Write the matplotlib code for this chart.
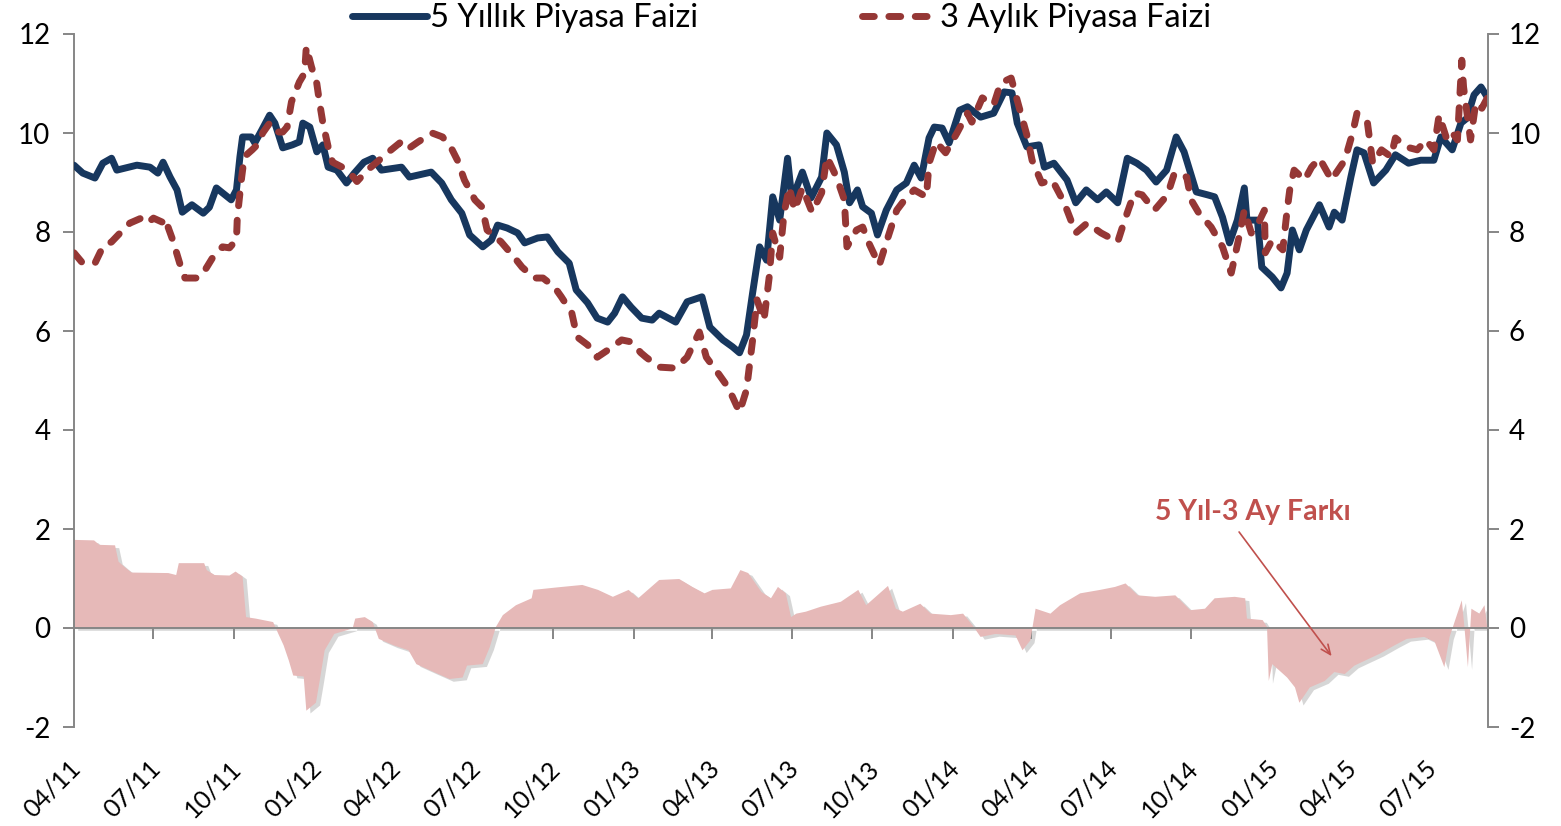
import matplotlib
matplotlib.use("Agg")
import matplotlib.pyplot as plt
import matplotlib.patheffects as pe
import matplotlib.transforms as mtransforms
import pandas as pd

plt.rcParams['font.family'] = ['Lato', 'DejaVu Sans']
plt.rcParams['axes.unicode_minus'] = False

# ---------------- data ----------------
five_year_dates = [
    "2011-04-01", "2011-04-11", "2011-04-25", "2011-05-04", "2011-05-14", "2011-05-20", "2011-06-12", "2011-06-27",
    "2011-07-06", "2011-07-12", "2011-07-20", "2011-07-28", "2011-08-03", "2011-08-14", "2011-08-27", "2011-09-03",
    "2011-09-11", "2011-09-18", "2011-09-28", "2011-10-04", "2011-10-08", "2011-10-11", "2011-10-21", "2011-10-25",
    "2011-11-02", "2011-11-11", "2011-11-17", "2011-11-26", "2011-12-07", "2011-12-15", "2011-12-19", "2011-12-27",
    "2012-01-04", "2012-01-11", "2012-01-17", "2012-01-27", "2012-02-07", "2012-02-16", "2012-02-27", "2012-03-08",
    "2012-03-18", "2012-04-10", "2012-04-19", "2012-05-14", "2012-05-26", "2012-06-06", "2012-06-18", "2012-06-27",
    "2012-07-12", "2012-07-22", "2012-07-29", "2012-08-09", "2012-08-21", "2012-08-29", "2012-09-13", "2012-09-24",
    "2012-10-06", "2012-10-19", "2012-10-27", "2012-11-09", "2012-11-20", "2012-12-02", "2012-12-10", "2012-12-19",
    "2012-12-29", "2013-01-10", "2013-01-22", "2013-01-30", "2013-02-18", "2013-03-03", "2013-03-20", "2013-03-29",
    "2013-04-13", "2013-04-24", "2013-05-02", "2013-05-10", "2013-05-17", "2013-05-25", "2013-06-02", "2013-06-09",
    "2013-06-17", "2013-06-26", "2013-07-01", "2013-07-13", "2013-07-23", "2013-08-04", "2013-08-10", "2013-08-21",
    "2013-08-30", "2013-09-05", "2013-09-14", "2013-09-20", "2013-09-30", "2013-10-07", "2013-10-17", "2013-10-29",
    "2013-11-09", "2013-11-18", "2013-11-26", "2013-12-05", "2013-12-11", "2013-12-20", "2013-12-28", "2014-01-09",
    "2014-01-18", "2014-02-02", "2014-02-17", "2014-03-01", "2014-03-10", "2014-03-16", "2014-03-27", "2014-04-10",
    "2014-04-16", "2014-04-27", "2014-05-12", "2014-05-22", "2014-06-03", "2014-06-16", "2014-06-26", "2014-07-09",
    "2014-07-20", "2014-07-31", "2014-08-11", "2014-08-22", "2014-09-03", "2014-09-14", "2014-09-23", "2014-10-07",
    "2014-10-20", "2014-10-28", "2014-11-06", "2014-11-14", "2014-11-23", "2014-12-01", "2014-12-04", "2014-12-16",
    "2014-12-21", "2015-01-02", "2015-01-12", "2015-01-19", "2015-01-25", "2015-02-02", "2015-02-10", "2015-02-25",
    "2015-03-08", "2015-03-14", "2015-03-23", "2015-04-02", "2015-04-09", "2015-04-17", "2015-04-28", "2015-05-12",
    "2015-05-23", "2015-06-07", "2015-06-21", "2015-07-06", "2015-07-14", "2015-07-27", "2015-08-06", "2015-08-13",
    "2015-08-21", "2015-08-29", "2015-09-05",
]
five_year_rate = [
    9.35, 9.19, 9.09, 9.39, 9.49, 9.25, 9.35, 9.31,
    9.19, 9.41, 9.11, 8.85, 8.40, 8.55, 8.38, 8.50,
    8.89, 8.79, 8.65, 8.85, 9.52, 9.92, 9.92, 9.80,
    10.06, 10.36, 10.20, 9.70, 9.76, 9.82, 10.20, 10.12,
    9.62, 9.76, 9.31, 9.25, 8.99, 9.19, 9.41, 9.49,
    9.25, 9.31, 9.11, 9.21, 8.99, 8.65, 8.38, 7.94,
    7.70, 7.84, 8.14, 8.08, 7.98, 7.78, 7.88, 7.90,
    7.60, 7.37, 6.83, 6.57, 6.26, 6.18, 6.36, 6.69,
    6.48, 6.26, 6.22, 6.36, 6.18, 6.59, 6.69, 6.08,
    5.82, 5.68, 5.56, 5.92, 6.77, 7.70, 7.43, 8.71,
    8.24, 9.49, 8.65, 9.21, 8.69, 9.11, 10.00, 9.76,
    9.21, 8.59, 8.85, 8.51, 8.38, 7.94, 8.44, 8.85,
    8.99, 9.35, 9.09, 9.90, 10.12, 10.10, 9.80, 10.46,
    10.53, 10.32, 10.40, 10.83, 10.81, 10.20, 9.72, 9.76,
    9.31, 9.39, 9.05, 8.59, 8.85, 8.65, 8.81, 8.59,
    9.49, 9.39, 9.25, 9.01, 9.25, 9.92, 9.62, 8.81,
    8.75, 8.71, 8.30, 7.78, 8.24, 8.89, 8.24, 8.24,
    7.29, 7.09, 6.87, 7.17, 8.04, 7.64, 8.04, 8.55,
    8.10, 8.40, 8.24, 9.11, 9.66, 9.60, 8.99, 9.25,
    9.56, 9.39, 9.45, 9.45, 9.92, 9.66, 10.20, 10.30,
    10.77, 10.93, 10.73,
]

three_month_dates = [
    "2011-04-01", "2011-04-10", "2011-04-25", "2011-05-04", "2011-05-14", "2011-05-27", "2011-06-04", "2011-06-17",
    "2011-06-24", "2011-07-01", "2011-07-11", "2011-07-14", "2011-07-23", "2011-07-31", "2011-08-06", "2011-08-21",
    "2011-08-29", "2011-09-07", "2011-09-18", "2011-09-26", "2011-10-04", "2011-10-05", "2011-10-10", "2011-10-13",
    "2011-10-22", "2011-10-30", "2011-11-03", "2011-11-11", "2011-11-19", "2011-11-26", "2011-12-01", "2011-12-06",
    "2011-12-15", "2011-12-21", "2011-12-23", "2011-12-29", "2012-01-04", "2012-01-07", "2012-01-11", "2012-01-17",
    "2012-01-22", "2012-02-02", "2012-02-13", "2012-02-19", "2012-03-02", "2012-03-18", "2012-03-25", "2012-04-08",
    "2012-04-16", "2012-04-29", "2012-05-15", "2012-05-27", "2012-06-07", "2012-06-13", "2012-06-21", "2012-07-03",
    "2012-07-11", "2012-07-17", "2012-08-02", "2012-08-17", "2012-08-26", "2012-09-09", "2012-09-19", "2012-10-02",
    "2012-10-10", "2012-10-22", "2012-10-28", "2012-11-09", "2012-11-20", "2012-12-06", "2012-12-18", "2012-12-29",
    "2013-01-09", "2013-01-15", "2013-01-30", "2013-02-18", "2013-03-03", "2013-03-17", "2013-03-25", "2013-04-09",
    "2013-04-17", "2013-04-24", "2013-05-02", "2013-05-10", "2013-05-17", "2013-05-22", "2013-05-30", "2013-06-05",
    "2013-06-09", "2013-06-17", "2013-06-22", "2013-06-28", "2013-07-04", "2013-07-13", "2013-07-24", "2013-08-04",
    "2013-08-10", "2013-08-21", "2013-08-30", "2013-09-02", "2013-09-13", "2013-09-20", "2013-09-27", "2013-10-09",
    "2013-10-18", "2013-10-29", "2013-11-07", "2013-11-18", "2013-12-02", "2013-12-05", "2013-12-13", "2013-12-24",
    "2014-01-06", "2014-01-18", "2014-01-23", "2014-02-04", "2014-02-17", "2014-02-25", "2014-03-09", "2014-03-18",
    "2014-03-27", "2014-04-02", "2014-04-13", "2014-04-25", "2014-05-07", "2014-05-12", "2014-05-22", "2014-06-04",
    "2014-06-20", "2014-07-09", "2014-07-17", "2014-07-28", "2014-08-06", "2014-08-20", "2014-09-04", "2014-09-12",
    "2014-09-26", "2014-10-01", "2014-10-10", "2014-10-24", "2014-11-06", "2014-11-16", "2014-11-25", "2014-12-01",
    "2014-12-09", "2014-12-16", "2014-12-24", "2014-12-25", "2015-01-02", "2015-01-14", "2015-01-19", "2015-01-22",
    "2015-01-27", "2015-02-08", "2015-02-16", "2015-02-25", "2015-03-11", "2015-03-16", "2015-03-26", "2015-04-04",
    "2015-04-09", "2015-04-21", "2015-04-27", "2015-05-07", "2015-05-18", "2015-05-23", "2015-06-04", "2015-06-17",
    "2015-06-27", "2015-07-06", "2015-07-12", "2015-07-20", "2015-07-25", "2015-08-02", "2015-08-07", "2015-08-09",
    "2015-08-13", "2015-08-17", "2015-08-23", "2015-08-30", "2015-09-05",
]
three_month_rate = [
    7.58, 7.39, 7.37, 7.70, 7.80, 8.04, 8.18, 8.28,
    8.18, 8.28, 8.20, 8.28, 7.84, 7.37, 7.07, 7.07,
    7.23, 7.49, 7.70, 7.68, 7.84, 8.30, 9.11, 9.52,
    9.66, 9.80, 10.00, 10.20, 10.02, 10.02, 10.12, 10.63,
    11.03, 11.21, 11.74, 11.33, 11.00, 10.63, 10.20, 9.72,
    9.41, 9.31, 9.15, 9.02, 9.25, 9.49, 9.60, 9.80,
    9.66, 9.82, 10.00, 9.92, 9.66, 9.45, 9.05, 8.65,
    8.51, 8.04, 7.80, 7.49, 7.29, 7.07, 7.07, 6.89,
    6.69, 6.36, 5.88, 5.72, 5.47, 5.66, 5.82, 5.78,
    5.56, 5.47, 5.27, 5.25, 5.47, 5.98, 5.47, 5.11,
    4.91, 4.67, 4.36, 4.81, 5.82, 6.63, 6.22, 7.09,
    7.98, 7.49, 8.38, 8.91, 8.44, 8.89, 8.40, 8.79,
    9.52, 9.11, 8.65, 7.70, 8.04, 8.10, 7.78, 7.33,
    7.84, 8.44, 8.65, 8.85, 8.71, 9.39, 9.82, 9.60,
    10.00, 10.40, 10.22, 10.71, 10.57, 11.01, 11.11, 10.53,
    9.96, 9.45, 8.99, 9.05, 8.65, 8.44, 7.98, 8.18,
    7.98, 7.80, 8.24, 8.79, 8.75, 8.44, 8.75, 9.19,
    9.11, 8.65, 8.38, 8.10, 7.70, 7.17, 7.90, 8.44,
    7.98, 8.14, 8.44, 7.58, 7.84, 7.64, 8.44, 8.85,
    9.25, 9.05, 9.31, 9.49, 9.05, 9.19, 9.45, 10.00,
    10.40, 10.20, 9.39, 9.66, 9.52, 9.90, 9.72, 9.66,
    9.86, 9.66, 10.36, 9.92, 10.06, 9.86, 11.47, 10.93,
    10.40, 9.86, 10.61, 10.50, 10.70,
]

spread_dates = [
    "2011-04-01", "2011-04-24", "2011-04-30", "2011-05-18", "2011-05-22", "2011-05-29", "2011-06-06", "2011-07-18",
    "2011-07-27", "2011-07-30", "2011-08-28", "2011-08-31", "2011-09-09", "2011-09-26", "2011-10-03", "2011-10-11",
    "2011-10-15", "2011-10-26", "2011-11-15", "2011-11-21", "2011-11-27", "2011-12-03", "2011-12-08", "2011-12-20",
    "2011-12-23", "2012-01-03", "2012-01-07", "2012-01-13", "2012-01-24", "2012-02-14", "2012-02-17", "2012-02-28",
    "2012-03-08", "2012-03-15", "2012-04-01", "2012-04-18", "2012-04-27", "2012-05-17", "2012-06-04", "2012-06-19",
    "2012-06-24", "2012-07-12", "2012-07-20", "2012-07-27", "2012-08-04", "2012-08-19", "2012-09-06", "2012-09-08",
    "2012-10-05", "2012-11-03", "2012-11-21", "2012-12-08", "2012-12-26", "2013-01-06", "2013-01-30", "2013-02-22",
    "2013-03-09", "2013-03-23", "2013-04-01", "2013-04-22", "2013-05-03", "2013-05-12", "2013-05-27", "2013-06-07",
    "2013-06-15", "2013-06-24", "2013-06-30", "2013-07-06", "2013-07-17", "2013-08-03", "2013-08-26", "2013-09-15",
    "2013-09-24", "2013-10-19", "2013-10-28", "2013-11-05", "2013-11-25", "2013-12-07", "2013-12-30", "2014-01-13",
    "2014-01-24", "2014-02-02", "2014-02-19", "2014-03-14", "2014-03-22", "2014-03-31", "2014-04-06", "2014-04-23",
    "2014-05-04", "2014-05-27", "2014-06-19", "2014-07-06", "2014-07-18", "2014-08-01", "2014-08-21", "2014-09-13",
    "2014-09-30", "2014-10-17", "2014-10-28", "2014-11-20", "2014-12-02", "2014-12-04", "2014-12-22", "2014-12-27",
    "2014-12-29", "2015-01-02", "2015-01-19", "2015-01-28", "2015-02-02", "2015-02-14", "2015-03-03", "2015-03-14",
    "2015-03-26", "2015-04-06", "2015-04-18", "2015-05-05", "2015-05-22", "2015-06-05", "2015-06-25", "2015-07-07",
    "2015-07-18", "2015-07-24", "2015-08-07", "2015-08-10", "2015-08-14", "2015-08-18", "2015-08-27", "2015-09-02",
    "2015-09-05",
]
spread = [
    1.78, 1.77, 1.68, 1.67, 1.34, 1.23, 1.12, 1.11,
    1.07, 1.31, 1.31, 1.17, 1.07, 1.06, 1.14, 1.04,
    0.22, 0.19, 0.12, -0.12, -0.35, -0.66, -0.96, -0.98,
    -1.67, -1.51, -1.10, -0.45, -0.12, -0.01, 0.19, 0.22,
    0.12, -0.22, -0.35, -0.45, -0.73, -0.89, -1.03, -1.00,
    -0.76, -0.73, -0.39, 0.02, 0.26, 0.46, 0.60, 0.77,
    0.82, 0.87, 0.77, 0.63, 0.77, 0.60, 0.97, 0.99,
    0.83, 0.70, 0.77, 0.80, 1.17, 1.11, 0.73, 0.60,
    0.83, 0.70, 0.22, 0.29, 0.33, 0.43, 0.53, 0.77,
    0.46, 0.85, 0.39, 0.33, 0.49, 0.29, 0.26, 0.29,
    0.05, -0.18, -0.12, -0.15, -0.45, -0.25, 0.39, 0.29,
    0.46, 0.70, 0.77, 0.83, 0.90, 0.66, 0.63, 0.66,
    0.36, 0.39, 0.60, 0.63, 0.60, 0.19, 0.16, 0.02,
    -1.07, -0.73, -1.00, -1.20, -1.51, -1.20, -1.07, -0.89,
    -0.93, -0.76, -0.66, -0.52, -0.35, -0.22, -0.18, -0.28,
    -0.79, -0.18, 0.56, 0.02, -0.79, 0.39, 0.29, 0.46,
    0.02,
]

series_labels = ["5 Yıllık Piyasa Faizi", "3 Aylık Piyasa Faizi"]
spread_label = "5 Yıl-3 Ay Farkı"
y_ticks = [-2, 0, 2, 4, 6, 8, 10, 12]

# ---------------- styling ----------------
NAVY = "#17375E"
DARKRED = "#953735"
PINK = "#E6B9B8"
ANNOT = "#C0504D"
GRAY = "#868686"
YTICK_FS = 20
XTICK_FS = 18

W, H = 1561, 826
fig = plt.figure(figsize=(W / 100, H / 100), dpi=100)
ax = fig.add_axes([74 / W, 1 - 727 / H, (1488 - 74) / W, (727 - 34) / H])

d5 = pd.to_datetime(five_year_dates)
d3 = pd.to_datetime(three_month_dates)
ds = pd.to_datetime(spread_dates)

area = ax.fill_between(ds, 0, spread, color=PINK, lw=0, zorder=2)
area.set_path_effects([
    pe.SimplePatchShadow(offset=(3, -2), shadow_rgbFace="#8C8C8C", alpha=0.35),
    pe.Normal(),
])

l5, = ax.plot(d5, five_year_rate, color=NAVY, lw=5.0, solid_capstyle="round",
              solid_joinstyle="round", zorder=4, label=series_labels[0])
l3, = ax.plot(d3, three_month_rate, color=DARKRED, lw=5.0, ls=(0, (1.7, 2.1)),
              dash_capstyle="round", dash_joinstyle="round", zorder=5,
              label=series_labels[1])

ax.set_xlim(pd.Timestamp("2011-04-01"), pd.Timestamp("2015-09-06"))
ax.set_ylim(-2, 12)
ax.set_yticks(y_ticks)
ax.set_yticklabels([str(t) for t in y_ticks])

# x axis crossing at zero
ax.spines["bottom"].set_position(("data", 0))
ax.spines["bottom"].set_color(GRAY)
ax.spines["bottom"].set_linewidth(1.4)
ax.spines["bottom"].set_zorder(3)
ax.spines["top"].set_visible(False)
ax.spines["right"].set_visible(False)
ax.spines["left"].set_color(GRAY)
ax.spines["left"].set_linewidth(1.4)

tick_dates = pd.date_range("2011-04-01", "2015-07-01", freq="3MS")
ax.set_xticks(tick_dates)
ax.tick_params(axis="x", direction="out", length=8, width=1.4, color=GRAY,
               labelbottom=False)
ax.tick_params(axis="y", direction="out", length=8, width=1.4, color=GRAY,
               labelsize=YTICK_FS, pad=9)

label_offset = mtransforms.ScaledTranslation(3 / 100, -37 / 100, fig.dpi_scale_trans)
for d in tick_dates:
    ax.text(d, 0, d.strftime("%m/%y"), transform=ax.get_xaxis_transform() + label_offset,
            rotation=45, rotation_mode="anchor", ha="right", va="center", fontsize=XTICK_FS)

ax2 = ax.twinx()
ax2.set_ylim(-2, 12)
ax2.set_yticks(y_ticks)
ax2.set_yticklabels([str(t) for t in y_ticks])
for s in ["top", "bottom", "left"]:
    ax2.spines[s].set_visible(False)
ax2.spines["right"].set_color(GRAY)
ax2.spines["right"].set_linewidth(1.4)
ax2.tick_params(axis="y", direction="out", length=8, width=1.4, color=GRAY,
                labelsize=YTICK_FS, pad=7)

# annotation
ax.annotate("", xy=(pd.Timestamp("2015-03-11"), -0.57),
            xytext=(pd.Timestamp("2014-11-25"), 1.94),
            arrowprops=dict(arrowstyle="->,head_length=0.7,head_width=0.3",
                            color=ANNOT, lw=1.2, shrinkA=0, shrinkB=0), zorder=6)
ax.text(pd.Timestamp("2014-12-11"), 2.34, spread_label, color=ANNOT, fontsize=20.5,
        fontweight="bold", ha="center", va="center", zorder=6)

fig.legend(handles=[l5, l3], loc="center", bbox_to_anchor=(781.5 / W, 1 - 18 / H),
           ncol=2, frameon=False, fontsize=23.5, handlelength=2.3, handletextpad=0.1,
           columnspacing=5.0, borderpad=0, borderaxespad=0)

fig.savefig("out.png", dpi=100)
